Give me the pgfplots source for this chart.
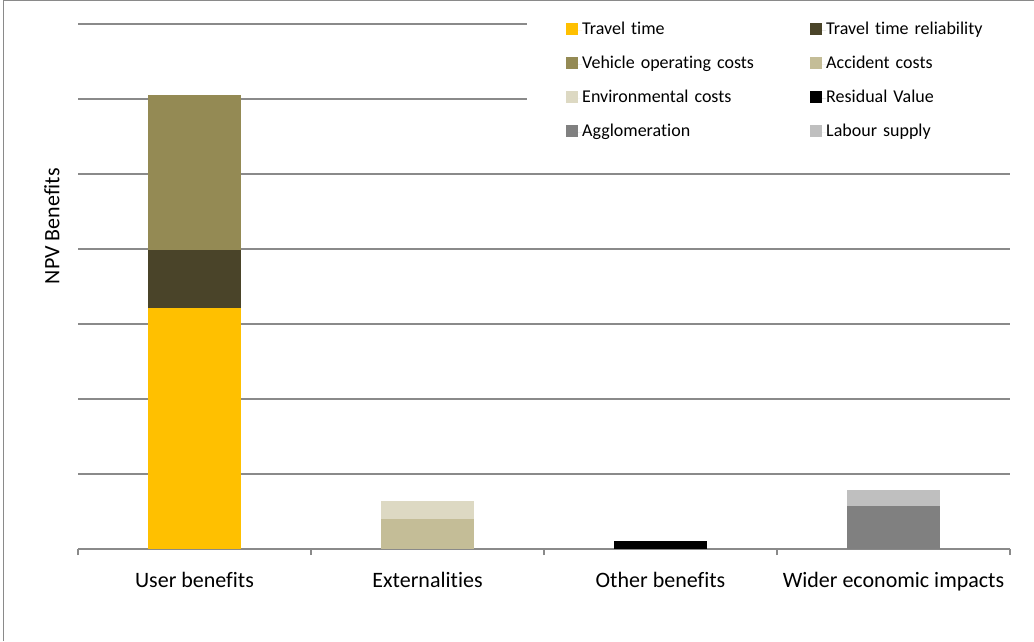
\documentclass[border=0pt]{standalone}
\usepackage{pgfplots}
\pgfplotsset{compat=1.18}
\usepackage{fontspec}
\setmainfont[Ligatures=NoCommon]{Carlito}
\definecolor{cTT}{HTML}{FFC000}
\definecolor{cRel}{HTML}{4A4429}
\definecolor{cVOC}{HTML}{948A54}
\definecolor{cAcc}{HTML}{C4BD97}
\definecolor{cEnv}{HTML}{DDD9C3}
\definecolor{cRes}{HTML}{000000}
\definecolor{cAgg}{HTML}{808080}
\definecolor{cLab}{HTML}{BFBFBF}
\definecolor{cGrid}{HTML}{8A8A8A}
\begin{document}
\begin{tikzpicture}
\useasboundingbox (0,0) rectangle (1034pt,641pt);
\draw[cGrid, line width=1.5pt] (3.5pt,0) -- (3.5pt,640.5pt) -- (1034pt,640.5pt);
\begin{axis}[
  at={(78pt,92pt)}, anchor=south west,
  scale only axis, width=932pt, height=525pt,
  xmin=-0.5, xmax=3.5, ymin=0, ymax=7,
  ybar stacked, bar width=93pt,
  axis x line*=bottom, axis y line*=left,
  y axis line style={draw=none},
  x axis line style={cGrid, line width=1.5pt, -},
  ytick={1,2,3,4,5,6,7}, yticklabels={}, ytick style={draw=none},
  ymajorgrids, grid style={cGrid, line width=1.5pt},
  xtick={0,1,2,3},
  xticklabels={User benefits, Externalities, Other benefits, Wider economic impacts},
  major tick length=0pt,
  extra x ticks={-0.5,0.5,1.5,2.5,3.5}, extra x tick labels={},
  extra x tick style={major tick length=6pt, tick align=outside, tick style={draw=cGrid, line width=1.5pt}},
  xticklabel style={font=\fontsize{22}{24}\selectfont, text height=15pt, text depth=5pt, inner sep=0pt, anchor=north, yshift=-23pt},
  ylabel={NPV Benefits},
  ylabel style={font=\fontsize{22}{24}\selectfont, at={(axis description cs:-0.028,0.615)}, anchor=center},
  legend columns=2,
  legend style={at={(axis description cs:0.4818,1.0238)}, anchor=north west, draw=none, fill=white,
    inner xsep=39pt, inner ysep=10pt,
    font=\fontsize{18}{20}\selectfont, row sep=17pt, cells={anchor=west},
    nodes={inner sep=0pt, text width=228pt, align=left, text height=13pt, text depth=4pt}},
  legend image code/.code={\fill[#1] (0pt,-4.5pt) rectangle (12pt,7.5pt); \path (0pt,0pt) -- (16pt,0pt);},
]
\addplot[fill=cTT, draw=none] coordinates {(0,3.213) (1,0) (2,0) (3,0)};
\addplot[fill=cRel, draw=none] coordinates {(0,0.773) (1,0) (2,0) (3,0)};
\addplot[fill=cVOC, draw=none] coordinates {(0,2.067) (1,0) (2,0) (3,0)};
\addplot[fill=cAcc, draw=none] coordinates {(0,0) (1,0.40) (2,0) (3,0)};
\addplot[fill=cEnv, draw=none] coordinates {(0,0) (1,0.24) (2,0) (3,0)};
\addplot[fill=cRes, draw=none] coordinates {(0,0) (1,0) (2,0.107) (3,0)};
\addplot[fill=cAgg, draw=none] coordinates {(0,0) (1,0) (2,0) (3,0.573)};
\addplot[fill=cLab, draw=none] coordinates {(0,0) (1,0) (2,0) (3,0.213)};
\legend{Travel time, Travel time reliability, Vehicle operating costs, Accident costs, Environmental costs, Residual Value, Agglomeration, Labour supply}
\end{axis}
\end{tikzpicture}
\end{document}
